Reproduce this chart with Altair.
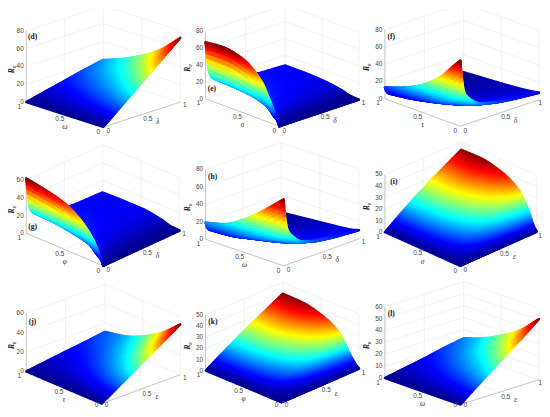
import numpy as np
import altair as alt

# Surface heights at a few knots of each panel (rows = left axis, cols = right axis).
U5 = [0, .25, .5, .75, 1]
V5 = [0, .25, .5, .75, 1]
U_STEEP = [0, .1, .25, .5, .75, 1]
V_STEEP = [0, .02, .05, .1, .25, .5, .75, 1]
U_SAT = [0, .03, .1, .25, .5, .75, 1]

Z_D = [[0, 18, 36, 54, 72], [0, 13, 26, 39, 52], [0, 9.5, 19, 28.5, 38], [0, 7, 14, 21, 27.5], [0, 5, 10, 15, 19.3]]
Z_E = [[0, 0, 0, 0, 0, 0, 0, 0],
       [21, 11, 4.5, 3, 1.5, 1, .7, .5],
       [46, 30, 17, 12, 8, 5.5, 4.5, 4],
       [64, 42, 24, 18, 12, 9, 7.5, 7],
       [69, 46, 27, 20, 13.5, 10, 8.5, 8],
       [67, 46, 28, 21, 14, 10.5, 9, 8]]
Z_F = [[76, 55, 38, 30, 19, 13, 10, 8],
       [66, 45, 30, 23, 14, 10, 8, 6.5],
       [50, 33, 21, 16, 10, 7, 5.5, 4.8],
       [32, 21, 13, 9.5, 6, 4, 3.3, 3],
       [21, 13, 7.5, 5.5, 3.5, 2.3, 1.8, 1.5],
       [13, 8, 4.5, 3, 1.5, .8, .4, 0]]
Z_G = [[0, 0, 0, 0, 0, 0, 0, 0],
       [20, 10, 4, 2.5, 1.5, 1, .7, .5],
       [37, 25, 15, 10, 6, 4.5, 4, 4],
       [52, 36, 22, 15, 10, 7.5, 7, 7],
       [58, 40, 25.5, 18, 12, 8.5, 7.2, 7],
       [62, 43, 26, 19, 12, 8, 7, 6.4]]
Z_H = [[76, 55, 40, 32, 20, 14, 11.5, 10],
       [68, 47, 33, 26, 16, 11, 9, 7.5],
       [56, 38, 26, 20, 12, 8.5, 7, 6],
       [38, 26, 17, 13, 8, 5.5, 4.5, 4],
       [25, 17, 11, 8.5, 5, 3.3, 2.5, 2],
       [19, 13, 9.5, 7, 3.5, 1.8, .9, 0]]
Z_I = [[0, .3, .5, .8, 1], [0, 1.1, 2.2, 3.1, 4], [0, 4.4, 8.4, 12, 15.5], [0, 8.7, 16.7, 24, 31],
       [0, 11.3, 21.6, 31, 40], [0, 12.2, 23.5, 33.5, 43.4], [0, 12.2, 23.4, 33.3, 43]]
Z_J = [[0, 13, 26, 39, 52], [0, 9, 17.5, 26, 35], [0, 6, 11.5, 17, 23], [0, 4, 7.5, 11.5, 15], [0, 2.7, 5.5, 8, 11]]
Z_K = [[0, .2, .4, .7, 1], [0, .8, 1.5, 2.1, 2.7], [0, 2.6, 5, 7, 9], [0, 7.2, 14, 20, 25.6],
       [0, 9.8, 19, 27.5, 35.4], [0, 10.8, 21, 30.5, 39.5], [0, 10.8, 21, 30.5, 40]]
Z_L = [[0, 13, 25.5, 38, 51], [0, 9, 18, 27, 36], [0, 6.5, 13, 19.5, 26], [0, 4.5, 9, 13.5, 18], [0, 3, 6, 9.5, 12.5]]

TAGS = ["(d)", "(e)", "(f)", "(g)", "(h)", "(i)", "(j)", "(k)", "(l)"]
LEFT_NAMES = ["ω", "σ", "τ", "φ", "ω", "σ", "τ", "φ", "ω"]
RIGHT_NAMES = ["λ", "δ", "δ", "δ", "δ", "ε", "ε", "ε", "ε"]
Z_TICKS = [[0, 20, 40, 60, 80], [0, 20, 40, 60, 80], [0, 20, 40, 60, 80],
           [0, 20, 40, 60], [0, 20, 40, 60, 80], [0, 10, 20, 30, 40, 50],
           [0, 20, 40, 60], [0, 10, 20, 30, 40, 50], [0, 10, 20, 30, 40, 50, 60]]
UV_TICKS = [0, 0.5, 1]

GRIDS = [(U5, V5, Z_D, False), (U_STEEP, V_STEEP, Z_E, True), (U_STEEP, V_STEEP, Z_F, True),
         (U_STEEP, V_STEEP, Z_G, True), (U_STEEP, V_STEEP, Z_H, True), (U_SAT, V5, Z_I, False),
         (U5, V5, Z_J, False), (U_SAT, V5, Z_K, False), (U5, V5, Z_L, False)]

# Layout of each panel in 3x-crop units: crop offset, floor corners, z-axis height, tag position.
GEOM = [
    dict(off=(0, 0), f=(305, 380), l=(73, 305), r=(537, 305), h=215, tag=(92, 110)),
    dict(off=(180, 0), f=(295, 378), l=(73, 295), r=(535, 298), h=203, tag=(92, 267)),
    dict(off=(360, 0), f=(300, 378), l=(73, 295), r=(537, 298), h=208, tag=(92, 110)),
    dict(off=(0, 140), f=(305, 378), l=(73, 280), r=(535, 272), h=160, tag=(92, 260)),
    dict(off=(180, 140), f=(308, 378), l=(73, 298), r=(535, 297), h=210, tag=(94, 112)),
    dict(off=(360, 140), f=(300, 378), l=(73, 277), r=(530, 279), h=174, tag=(100, 125)),
    dict(off=(0, 277), f=(300, 382), l=(73, 285), r=(537, 295), h=175, tag=(92, 135)),
    dict(off=(180, 277), f=(302, 378), l=(73, 283), r=(535, 280), h=168, tag=(95, 137)),
    dict(off=(360, 277), f=(300, 385), l=(73, 305), r=(537, 310), h=215, tag=(92, 113)),
]
JET_STOPS = [0, .125, .375, .625, .875, 1]
JET = ["#00008f", "#0000ff", "#00ffff", "#ffff00", "#ff0000", "#800000"]
PW, PH = 178, 133


def pchip(xs, ys, xq):
    # Shape-preserving cubic through the read-off knots.
    xs, ys = np.array(xs, float), np.array(ys, float)
    h = np.diff(xs)
    d = np.diff(ys) / h
    m = np.zeros_like(ys)
    m[0], m[-1] = d[0], d[-1]
    for k in range(1, len(xs) - 1):
        if d[k - 1] * d[k] > 0:
            w1, w2 = 2 * h[k] + h[k - 1], h[k] + 2 * h[k - 1]
            m[k] = (w1 + w2) / (w1 / d[k - 1] + w2 / d[k])
    idx = np.clip(np.searchsorted(xs, xq, side="right") - 1, 0, len(h) - 1)
    t = (xq - xs[idx]) / h[idx]
    return ((2 * t**3 - 3 * t**2 + 1) * ys[idx] + (t**3 - 2 * t**2 + t) * h[idx] * m[idx]
            + (-2 * t**3 + 3 * t**2) * ys[idx + 1] + (t**3 - t**2) * h[idx] * m[idx + 1])


def mesh(us, vs, z, ug, vg):
    # Fine painting mesh between the read-off knots, only to shade the surface smoothly.
    z = np.array(z, float)
    a = np.array([pchip(vs, row, vg) for row in z])
    return np.array([pchip(us, a[:, j], ug) for j in range(len(vg))]).T


def panel(i):
    g = GEOM[i]
    us, vs, z, steep = GRIDS[i]
    zt = Z_TICKS[i]
    zmax = zt[-1]
    col, row = i % 3, i // 3
    ox, oy = g["off"]
    f, l, r = np.array(g["f"], float), np.array(g["l"], float), np.array(g["r"], float)

    def P(u, v, zz=0.0):
        p = f + u * (l - f) + v * (r - f)
        return ox + p[0] / 3, oy + (p[1] - zz / zmax * g["h"]) / 3

    sat = us is U_SAT
    t = np.linspace(0, 1, 72)
    ug = t ** 1.5 if sat else (t ** 1.3 if steep else t)
    s = np.linspace(0, 1, 34 if steep else 42)
    vg = s ** 2.6 if steep else s
    Z = mesh(us, vs, z, ug, vg)
    cells = []
    for a in range(len(ug)):
        for b in range(len(vg) - 1):
            x1, y1 = P(ug[a], vg[b], Z[a, b])
            x2, y2 = P(ug[a], vg[b + 1], Z[a, b + 1])
            cells.append((ug[a] + vg[b], dict(x=round(x1, 2), y=round(y1, 2), x2=round(x2, 2), y2=round(y2, 2),
                                              z=round((Z[a, b] + Z[a, b + 1]) / 2, 2))))
    cells.sort(key=lambda c: -c[0])
    surf_rows = [c[1] for c in cells]

    def seg(a, b):
        return dict(x=round(a[0], 2), y=round(a[1], 2), x2=round(b[0], 2), y2=round(b[1], 2))

    grid = []
    for zz in zt:
        grid.append(seg(P(1, 0, zz), P(1, 1, zz)))
        grid.append(seg(P(1, 1, zz), P(0, 1, zz)))
    for (a, b) in [((1, .5), (1, .5)), ((1, 1), (1, 1)), ((.5, 1), (.5, 1)), ((0, 1), (0, 1))]:
        grid.append(seg(P(a[0], a[1], 0), P(b[0], b[1], zmax)))
    grid.append(seg(P(.5, 0), P(.5, 1)))
    grid.append(seg(P(0, .5), P(1, .5)))
    axes = [seg(P(0, 0), P(1, 0)), seg(P(0, 0), P(0, 1)), seg(P(1, 0, 0), P(1, 0, zmax))]

    def keep(x, y):
        # Text stays inside the page box so the chart keeps its size.
        return dict(x=round(min(max(x, 10.5), 540.0), 2), y=round(min(y, 405.5), 2))

    zl = [dict(x=round(P(1, 0, zz)[0] - 2.5, 2), y=round(P(1, 0, zz)[1], 2), t=str(zz)) for zz in zt]
    tl = []
    for tv in UV_TICKS:
        p = P(tv, 0)
        off = {0: (-5, 5), 0.5: (-5, 4.4), 1: (-7, 4.6)}[tv]
        tl.append(dict(keep(p[0] + off[0], p[1] + off[1]), t=str(tv)))
        p = P(0, tv)
        off = {0: (5, 4.5), 0.5: (6, 4.4), 1: (4.5, 3.4)}[tv]
        tl.append(dict(keep(p[0] + off[0], p[1] + off[1]), t=str(tv)))
    pl, pr = P(.5, 0), P(0, .5)
    names = [dict(keep(pl[0], pl[1] + 13), t=LEFT_NAMES[i]), dict(keep(pr[0] + 16, pr[1] + 8), t=RIGHT_NAMES[i])]
    pz = P(1, 0, zmax * .5)
    zname = [dict(keep(pz[0] - 18, pz[1] + 3), t="R₀")]
    tag = [dict(x=ox + g["tag"][0] / 3, y=oy + g["tag"][1] / 3, t=TAGS[i])]

    x0, y0 = 8 + PW * col, 8 + PH * row
    X = alt.X("x:Q", axis=None, scale=alt.Scale(domain=[x0, x0 + PW], nice=False, zero=False))
    Y = alt.Y("y:Q", axis=None, scale=alt.Scale(domain=[y0 + PH, y0], nice=False, zero=False))
    zhi = float(np.max(z))
    color = alt.Color("z:Q", legend=None,
                      scale=alt.Scale(domain=[s_ * zhi for s_ in JET_STOPS], range=JET, interpolate="rgb"))

    def rules(rows, c, w):
        return alt.Chart(alt.Data(values=rows)).mark_rule(color=c, strokeWidth=w, clip=True).encode(x=X, y=Y, x2="x2:Q", y2="y2:Q")

    def text(rows, **kw):
        return alt.Chart(alt.Data(values=rows)).mark_text(**kw).encode(x=X, y=Y, text="t:N")

    surf = alt.Chart(alt.Data(values=surf_rows)).mark_rule(strokeWidth=2.4, strokeCap="round").encode(
        x=X, y=Y, x2="x2:Q", y2="y2:Q", color=color)
    return alt.layer(
        rules(grid, "#e9e9e9", 0.6),
        rules(axes, "#a8a8a8", 0.7),
        surf,
        text(zl, align="right", baseline="middle", font="Liberation Sans", fontSize=6.5, color="#444444"),
        text(tl, align="center", baseline="middle", font="Liberation Sans", fontSize=6.5, color="#444444"),
        text(names, align="center", baseline="middle", font="Liberation Serif", fontStyle="italic", fontSize=7.5, color="#333333"),
        text(zname, align="center", baseline="middle", font="Liberation Serif", fontStyle="italic", fontWeight="bold",
             fontSize=7.5, angle=270, color="#222222"),
        text(tag, align="center", baseline="middle", font="Liberation Serif", fontWeight="bold", fontSize=7.5, color="#111111"),
    ).properties(width=PW, height=PH)


chart = alt.concat(*[panel(i) for i in range(9)], columns=3, spacing=0, bounds="flush").resolve_scale(
    color="independent", x="independent", y="independent"
).properties(padding=0, background="white").configure_view(stroke=None)

chart.save("out.html", embed_options={"renderer": "svg", "actions": False})
